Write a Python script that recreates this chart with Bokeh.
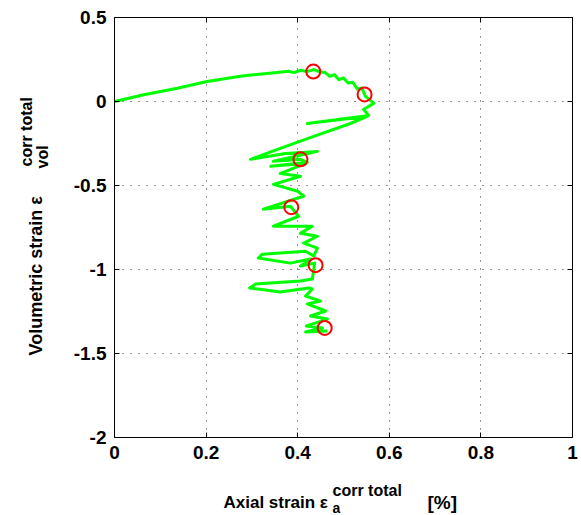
import math
from bokeh.plotting import figure
from bokeh.models import Label, FixedTicker, Range1d, LinearAxis
from bokeh.embed import file_html
from bokeh.resources import INLINE

# ---------------- data ----------------
x_ticks = [0, 0.2, 0.4, 0.6, 0.8, 1.0]
x_tick_labels = ["0", "0.2", "0.4", "0.6", "0.8", "1"]
y_ticks = [0.5, 0, -0.5, -1, -1.5, -2]
y_tick_labels = ["0.5", "0", "-0.5", "-1", "-1.5", "-2"]

# green trace (axial strain %, volumetric strain %)
axial_strain = [
    0.000, 0.064, 0.137, 0.202, 0.282, 0.355, 0.380, 0.392, 0.406, 0.420,
    0.435, 0.450, 0.460, 0.470, 0.480, 0.490, 0.500, 0.510, 0.520, 0.530,
    0.540, 0.548, 0.566,
    0.544, 0.555, 0.421, 0.493, 0.552, 0.515, 0.435, 0.362, 0.297, 0.373,
    0.443, 0.347, 0.406, 0.421, 0.341, 0.419, 0.384, 0.391, 0.362, 0.406,
    0.347, 0.400, 0.413, 0.325, 0.384, 0.402, 0.347, 0.432, 0.406, 0.443,
    0.413, 0.443, 0.435, 0.417, 0.323, 0.314, 0.384, 0.428, 0.406, 0.437,
    0.432, 0.406, 0.308, 0.295, 0.362, 0.424, 0.432, 0.417, 0.450, 0.421,
    0.461, 0.428, 0.465, 0.419, 0.454, 0.417, 0.465,
]
vol_strain = [
    0.000, 0.040, 0.079, 0.119, 0.153, 0.172, 0.180, 0.172, 0.186, 0.178,
    0.190, 0.175, 0.172, 0.150, 0.160, 0.130, 0.140, 0.110, 0.115, 0.075,
    0.080, 0.030, -0.010,
    -0.048, -0.083, -0.131, -0.107, -0.089, -0.131, -0.208, -0.279, -0.344, -0.309,
    -0.297, -0.356, -0.344, -0.362, -0.386, -0.368, -0.404, -0.398, -0.428, -0.445,
    -0.493, -0.534, -0.564, -0.641, -0.624, -0.683, -0.742, -0.742, -0.784, -0.802,
    -0.843, -0.873, -0.920, -0.891, -0.909, -0.932, -0.962, -0.938, -0.980, -0.962,
    -1.057, -1.069, -1.087, -1.110, -1.134, -1.110, -1.116, -1.158, -1.188, -1.205,
    -1.247, -1.277, -1.295, -1.336, -1.348, -1.372, -1.366,
]

# red circle markers
marker_axial = [0.434, 0.546, 0.406, 0.386, 0.439, 0.459]
marker_vol = [0.178, 0.042, -0.344, -0.629, -0.974, -1.348]

# ---------------- layout geometry (page pixels) ----------------
FONT = "Liberation Sans"
PAGE = 0            # bokeh's page template has no body margin
W, H = 578, 515
FL, FR, FT, FB = 114, 572, 17, 437      # data box edges on the page
X0, X1 = x_ticks[0], x_ticks[-1]
Y0, Y1 = y_ticks[-1], y_ticks[0]


def px2x(px):
    return X0 + (px - FL) / (FR - FL) * (X1 - X0)


def py2y(py):
    return Y1 - (py - FT) / (FB - FT) * (Y1 - Y0)


p = figure(width=W, height=H,
           x_range=Range1d(px2x(PAGE), px2x(PAGE + W)),
           y_range=Range1d(py2y(PAGE + H), py2y(PAGE)),
           min_border=0, output_backend="svg", toolbar_location=None)
p.background_fill_color = "white"
p.border_fill_color = "white"
p.outline_line_color = None

TICK_SIZE = "19px"


def style_axis(ax, ticks, labels, show_labels=True):
    ax.ticker = FixedTicker(ticks=ticks)
    ax.axis_line_color = "black"
    ax.axis_line_width = 1
    ax.major_tick_line_color = "black"
    ax.major_tick_in = 5
    ax.major_tick_out = 0
    ax.minor_tick_line_color = None
    ax.major_label_text_font = FONT
    ax.major_label_text_font_style = "bold"
    ax.major_label_text_font_size = TICK_SIZE
    if show_labels:
        ax.major_label_overrides = dict(zip(ticks, labels))
        ax.major_label_text_color = "black"
    else:
        ax.major_label_overrides = {t: "" for t in ticks}
        ax.major_label_text_color = None


xax = p.xaxis[0]
xax.fixed_location = Y0
xax.bounds = (X0, X1)
style_axis(xax, x_ticks, x_tick_labels)
xax.major_label_standoff = 8

yax = p.yaxis[0]
yax.fixed_location = X0
yax.bounds = (Y0, Y1)
style_axis(yax, y_ticks, y_tick_labels)
yax.major_label_standoff = 8

top_ax = LinearAxis(fixed_location=Y1, bounds=(X0, X1))
style_axis(top_ax, x_ticks, x_tick_labels, show_labels=False)
p.add_layout(top_ax, "above")

right_ax = LinearAxis(fixed_location=X1, bounds=(Y0, Y1))
style_axis(right_ax, y_ticks, y_tick_labels, show_labels=False)
p.add_layout(right_ax, "right")

# dotted grid restricted to the data box
p.grid.grid_line_color = "black"
p.grid.grid_line_dash = "1 7"
p.grid.grid_line_alpha = 0.85
p.grid.grid_line_width = 1
try:
    p.xgrid[0].cross_bounds = (Y0, Y1)
    p.ygrid[0].cross_bounds = (X0, X1)
except AttributeError:
    p.grid.visible = False
    p.multi_line([[t, t] for t in x_ticks], [[Y0, Y1] for _ in x_ticks],
                 line_color="black", line_dash="1 7", line_alpha=0.85)
    p.multi_line([[X0, X1] for _ in y_ticks], [[t, t] for t in y_ticks],
                 line_color="black", line_dash="1 7", line_alpha=0.85)

p.line(axial_strain, vol_strain, line_color="#00ff00", line_width=3,
       line_join="round")
p.scatter(marker_axial, marker_vol, marker="circle", size=14,
          fill_color=None, line_color="#ff0000", line_width=2)

# ---------------- axis labels built from pieces ----------------
def add_text(txt, px, py, size, angle=0.0):
    p.add_layout(Label(x=px2x(px), y=py2y(py), text=txt, angle=angle,
                       text_font=FONT, text_font_style="bold",
                       text_font_size=size, text_color="black",
                       text_align="left", text_baseline="alphabetic"))


SMALL = "16px"
# x label: Axial strain eps_a^{corr total} [%]
add_text("Axial strain \u03b5", 223, 502, "17px")
add_text("corr total", 332, 490, SMALL)
add_text("a", 332, 507, "14px")
add_text("[%]", 427, 502, "19px")

# y label: Volumetric strain eps_vol^{corr total}
add_text("Volumetric strain \u03b5", 35, 355, "18px", math.pi / 2)
add_text("corr total", 26, 166, SMALL, math.pi / 2)
add_text("vol", 42, 168, SMALL, math.pi / 2)

open("out.html", "w").write(file_html(p, INLINE))
